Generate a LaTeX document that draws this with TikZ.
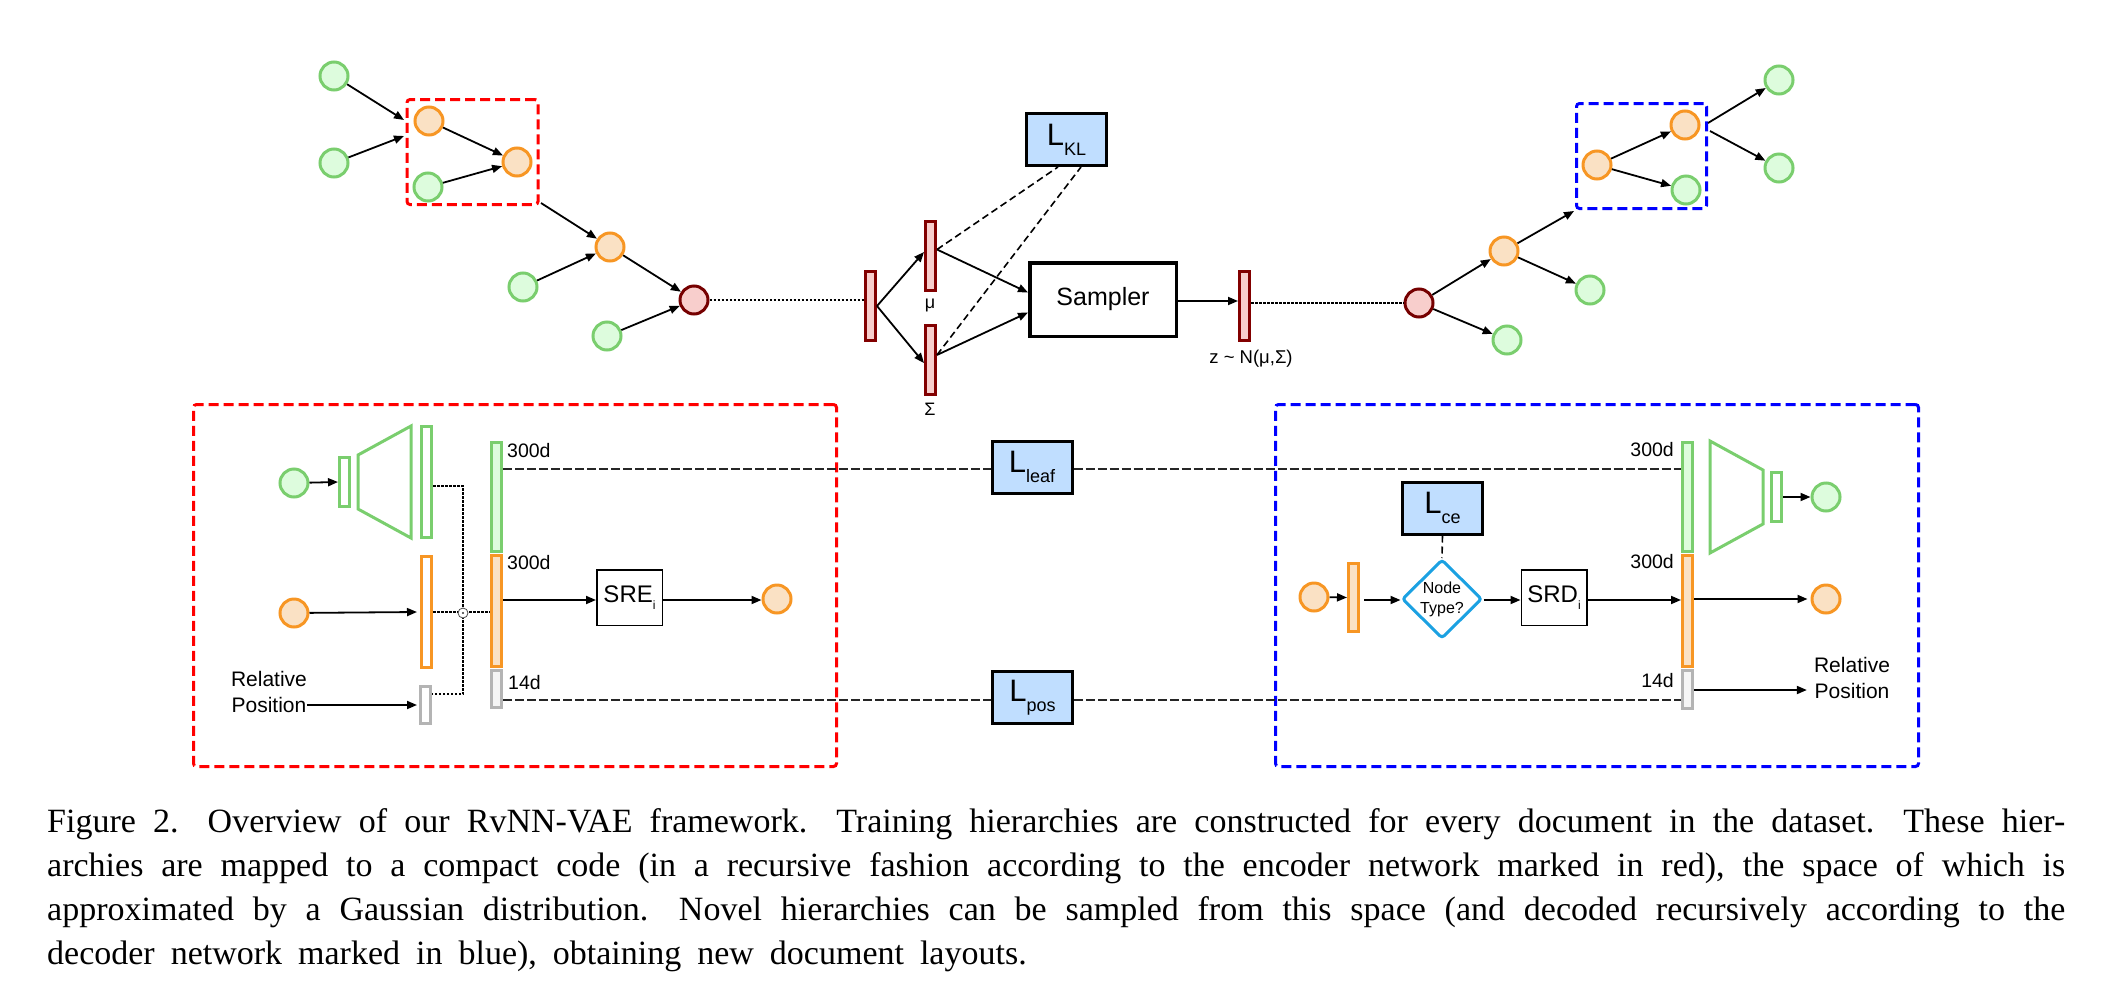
\documentclass[tikz,border=0pt]{standalone}
\usepackage{fontspec}
\setmainfont{Liberation Serif}
\newfontfamily\arial{Liberation Sans}
\usetikzlibrary{arrows.meta,shapes.geometric,calc}
\definecolor{gfill}{RGB}{221,252,221}
\definecolor{gstroke}{RGB}{122,206,110}
\definecolor{ofill}{RGB}{250,225,196}
\definecolor{ostroke}{RGB}{247,150,36}
\definecolor{rfill}{RGB}{248,206,204}
\definecolor{rstroke}{RGB}{118,0,0}
\definecolor{barstroke}{RGB}{130,0,0}
\definecolor{lossfill}{RGB}{192,222,255}
\definecolor{grayfill}{RGB}{245,245,245}
\definecolor{graystroke}{RGB}{180,180,180}
\definecolor{cyanstroke}{RGB}{27,161,226}
\newcommand\Lsub[1]{{\fontsize{31}{31}\selectfont L}\raisebox{-10pt}{\fontsize{18}{18}\selectfont #1}}
\newcommand\Msub[2]{{\fontsize{24}{24}\selectfont #1}\raisebox{-7pt}{\fontsize{12}{12}\selectfont #2}}
\begin{document}
\begin{tikzpicture}[x=1pt,y=-1pt,
  circ/.style={circle,minimum size=28pt,inner sep=0pt,line width=3pt},
  gc/.style={circ,draw=gstroke,fill=gfill},
  oc/.style={circ,draw=ostroke,fill=ofill},
  rcirc/.style={circ,draw=rstroke,fill=rfill},
  vbar/.style={rectangle,inner sep=0pt,minimum width=10pt,minimum height=69pt,line width=3pt,draw=barstroke,fill=rfill},
  gbar/.style={rectangle,inner sep=0pt,minimum width=10pt,line width=3pt,draw=gstroke,fill=gfill},
  obar/.style={rectangle,inner sep=0pt,minimum width=10pt,line width=3pt,draw=ostroke,fill=ofill},
  graybar/.style={rectangle,inner sep=0pt,minimum width=10pt,line width=3pt,draw=graystroke,fill=grayfill},
  gwbar/.style={rectangle,inner sep=0pt,minimum width=10pt,line width=3pt,draw=gstroke,fill=white},
  owbar/.style={rectangle,inner sep=0pt,minimum width=10pt,line width=3pt,draw=ostroke,fill=white},
  arr/.style={-{Triangle[length=10pt,width=8pt]},line width=1.8pt},
  loss/.style={rectangle,draw=black,line width=3pt,fill=lossfill,minimum width=80pt,minimum height=52pt,inner sep=0pt,font=\arial},
  encbox/.style={rectangle,draw=red,line width=3pt,dash pattern=on 10pt off 5pt,rounded corners=3pt,inner sep=0pt},
  decbox/.style={rectangle,draw=blue,line width=3pt,dash pattern=on 10pt off 5pt,rounded corners=3pt,inner sep=0pt},
  lossline/.style={draw=black!85,line width=1.6pt,dash pattern=on 9pt off 3pt},
  klline/.style={draw=black,line width=1.6pt,dash pattern=on 7pt off 4pt},
  dotline/.style={draw=black,line width=1.6pt,dash pattern=on 2.5pt off 1.5pt},
  thindot/.style={draw=black,line width=1.2pt,dash pattern=on 2.5pt off 1.5pt},
  lbl/.style={inner sep=0pt,font=\arial\fontsize{18}{20}\selectfont},
  dimlbl/.style={inner sep=0pt,font=\arial\fontsize{19.5}{22}\selectfont},
  rellbl/.style={inner sep=0pt,align=center,font=\arial\fontsize{21}{26.5}\selectfont},
  thinbox/.style={rectangle,draw=black,line width=1.5pt,fill=white,minimum width=65.5pt,minimum height=55.5pt,inner sep=0pt,font=\arial}
]
\useasboundingbox (0,0) rectangle (2121,983);

% ---------- top-left encoder tree ----------
\node[encbox,minimum width=131pt,minimum height=105pt] (eb) at (472.5,152) {};
\node[gc] (g1) at (334,76) {};
\node[gc] (g2) at (334,163) {};
\node[oc] (o1) at (429,121) {};
\node[gc] (g3) at (428,187) {};
\node[oc] (o2) at (517,162) {};
\node[oc] (o3) at (610,247) {};
\node[gc] (g4) at (523,287) {};
\node[rcirc] (rc) at (694,300) {};
\node[gc] (g5) at (607,336) {};
\coordinate (ein1) at (404,120);
\coordinate (ein2) at (404,136);
\coordinate (eout) at (541,203);
\draw[arr] (g1) -- (ein1);
\draw[arr] (g2) -- (ein2);
\draw[arr] (o1) -- (o2);
\draw[arr] (g3) -- (o2);
\draw[arr] (eout) -- (o3);
\draw[arr] (g4) -- (o3);
\draw[arr] (o3) -- (rc);
\draw[arr] (g5) -- (rc);

% ---------- middle VAE part ----------
\node[vbar] (b0) at (870.5,306) {};
\node[vbar] (mu) at (930.5,256) {};
\node[vbar] (sg) at (930.5,359.5) {};
\node[lbl] (mul) at (930,305) {μ};
\node[lbl] (sgl) at (930,409) {Σ};
\node[rectangle,draw=black,line width=3.5pt,fill=white,minimum width=146.5pt,minimum height=73.5pt,inner sep=0pt,font=\arial\fontsize{25}{28}\selectfont] (smp) at (1103,299.5) {Sampler};
\node[vbar] (zb) at (1244.5,306) {};
\node[lbl,font=\arial\fontsize{18.5}{20}\selectfont] (zl) at (1251,359) {z \textasciitilde{} N(μ,Σ)};
\node[loss] (lkl) at (1066.5,139.5) {\Lsub{KL}};
\draw[dotline] (rc) -- (rc -| b0.west);
\draw[arr] (b0.east) -- ([yshift=4pt]mu.west);
\draw[arr] (b0.east) -- ([yshift=-3.5pt]sg.west);
\draw[arr] (mu.45) -- ([yshift=7pt]smp.west);
\draw[arr] (sg.35) -- ([yshift=-13pt]smp.west);
\draw[arr] ([yshift=-1.5pt]smp.east) -- ([yshift=-1.5pt]smp.east -| zb.west);
\draw[klline] (mu.45) -- ([xshift=-8.5pt]lkl.south);
\draw[klline] (sg.35) -- ([xshift=14.5pt]lkl.south);

% ---------- top-right decoder tree ----------
\node[decbox,minimum width=130pt,minimum height=105pt] (db) at (1641.5,156) {};
\node[rcirc] (rcD) at (1419,303) {};
\node[oc] (oD1) at (1504,251) {};
\node[gc] (gD1) at (1507,340) {};
\node[gc] (gD2) at (1590,290) {};
\node[oc] (oD2) at (1597,165) {};
\node[oc] (oD3) at (1685,125) {};
\node[gc] (gD3) at (1686,190) {};
\node[gc] (gD4) at (1779,80) {};
\node[gc] (gD5) at (1779,168) {};
\coordinate (din) at (1574,211);
\coordinate (dout1) at (1708,123);
\coordinate (dout2) at (1710,131);
\draw[dotline] (zb.east |- rcD) -- (rcD);
\draw[arr] (rcD) -- (oD1);
\draw[arr] (rcD) -- (gD1);
\draw[arr] (oD1) -- (din);
\draw[arr] (oD1) -- (gD2);
\draw[arr] (oD2) -- (oD3);
\draw[arr] (oD2) -- (gD3);
\draw[arr] (dout1) -- (gD4);
\draw[arr] (dout2) -- (gD5);

% ---------- bottom-left encoder detail ----------
\node[encbox,minimum width=643pt,minimum height=362pt] (EB) at (515,585.5) {};
\node[gc] (gL) at (294,483) {};
\node[gwbar,minimum height=49pt] (sL) at (344.5,482) {};
\draw[gstroke,line width=3pt,line join=miter] (358,455) -- (411,426) -- (411,538) -- (358,509) -- cycle;
\node[gwbar,minimum height=111pt] (tg) at (426.5,482) {};
\node[oc] (oL) at (294,613) {};
\node[owbar,minimum height=111pt] (oR) at (426.5,612) {};
\node[rellbl] (relL) at (269,692) {Relative\\Position};
\node[rectangle,inner sep=0pt,minimum width=10pt,minimum height=37pt,line width=3pt,draw=graystroke,fill=white] (gR) at (425.5,705) {};
\node[gbar,minimum height=109pt] (cg) at (496.5,497) {};
\node[obar,minimum height=111pt] (co) at (496.5,611) {};
\node[graybar,minimum height=37pt] (cgy) at (496.5,689) {};
\node[dimlbl,anchor=west] (d1) at (507,451) {300d};
\node[dimlbl,anchor=west] (d2) at (507,563) {300d};
\node[dimlbl,anchor=west] (d3) at (508,683) {14d};
\node[thinbox] (sre) at (629.5,597.5) {\Msub{SRE}{i}};
\node[oc] (oOut) at (777,599) {};
\coordinate (jt) at (463,486);
\coordinate (jb) at (463,694);
\draw[arr] (gL) -- (sL.west);
\draw[arr] (oL) -- ([xshift=-3pt]oR.west);
\draw[arr] (relL.east |- gR) -- ([xshift=-2pt]gR.west);
\draw[thindot] (tg.east |- jt) -- (jt) -- (jb) -- (gR.east |- jb);
\draw[thindot] (oR.east) -- (oR.east -| co.west);
\node[circle,draw=black!70,fill=white,line width=0.8pt,minimum size=10pt,inner sep=0pt] (junc) at (463,613) {};
\fill[black!80] (junc) circle (1.2pt);
\draw[arr] ([yshift=11pt]co.east) -- ([yshift=11pt]co.east -| sre.west);
\draw[arr] ([yshift=-2.5pt]sre.east) -- ([yshift=-2.5pt]sre.east -| oOut.west);

% ---------- losses between encoder and decoder ----------
\node[loss] (lleaf) at (1032,467) {\Lsub{leaf}};
\node[loss] (lpos) at (1032.5,697.5) {\Lsub{pos}};

% ---------- bottom-right decoder detail ----------
\node[decbox,minimum width=643pt,minimum height=362pt] (DB) at (1597,585.5) {};
\node[oc] (oIn) at (1314,597) {};
\node[obar,minimum height=68pt] (oRin) at (1353.5,597.5) {};
\node[diamond,draw=cyanstroke,fill=white,line width=3pt,rounded corners=3pt,inner sep=0pt,minimum width=80pt,minimum height=79pt,align=center,font=\arial\fontsize{16}{20}\selectfont] (dia) at (1442,599) {Node\\Type?};
\node[loss] (lce) at (1442.5,508) {\Lsub{ce}};
\node[thinbox] (srd) at (1554,597.5) {\Msub{SRD}{i}};
\node[gbar,minimum height=109pt] (cgR) at (1687.5,497) {};
\node[obar,minimum height=111pt] (coR) at (1687.5,611) {};
\node[graybar,minimum height=38pt] (cgyR) at (1687.5,689.5) {};
\node[dimlbl,anchor=east] (e1) at (1674,450) {300d};
\node[dimlbl,anchor=east] (e2) at (1674,562) {300d};
\node[dimlbl,anchor=east] (e3) at (1674,681) {14d};
\draw[gstroke,line width=3pt,line join=miter] (1710,441) -- (1763,470) -- (1763,524) -- (1710,553) -- cycle;
\node[gwbar,minimum height=49pt] (sR) at (1776.5,497) {};
\node[gc] (gOut) at (1826,497) {};
\node[oc] (oOut2) at (1826,599) {};
\node[rellbl] (relR) at (1852,678) {Relative\\Position};
\draw[arr] (oIn) -- (oRin.west);
\draw[arr] ([xshift=4pt,yshift=-2.5pt]oRin.east) -- ([yshift=-1pt]dia.west);
\draw[klline] (lce.south) -- (dia.north);
\draw[arr] ([yshift=-1pt]dia.east) -- ([yshift=-2.5pt]srd.west);
\draw[arr] ([yshift=-2.5pt]srd.east) -- ([yshift=-2.5pt]srd.east -| coR.west);
\draw[arr] ([yshift=12pt]coR.east) -- ([xshift=-3pt]oOut2.west);
\draw[arr] (sR.east) -- (gOut.west);
\draw[arr] ([yshift=-0.5pt]cgyR.east) -- ([xshift=-7pt,yshift=-0.5pt]relR.west |- cgyR.east);

% ---------- loss connectors ----------
\draw[lossline] ([yshift=28pt]cg.east) -- ([yshift=28pt]cg.east -| lleaf.west);
\draw[lossline] ([yshift=28pt]cg.east -| lleaf.east) -- ([yshift=28pt]cg.east -| cgR.west);
\draw[lossline] ([yshift=-11pt]cgy.east) -- ([yshift=-11pt]cgy.east -| lpos.west);
\draw[lossline] ([yshift=-11pt]cgy.east -| lpos.east) -- ([yshift=-11pt]cgy.east -| cgyR.west);

% ---------- caption ----------
\node[anchor=base west,inner sep=0pt] (cap) at (47,832) {\parbox[t]{2018pt}{\fontsize{34}{44}\selectfont\spaceskip=0.47em plus 0.15em minus 0.1em\xspaceskip=0.82em plus 0.15em minus 0.1em Figure 2. Overview of our RvNN-VAE framework. Training hierarchies are constructed for every document in the dataset. These hier-\linebreak archies are mapped to a compact code (in a recursive fashion according to the encoder network marked in red), the space of which is\linebreak approximated by a Gaussian distribution. Novel hierarchies can be sampled from this space (and decoded recursively according to the\linebreak decoder network marked in blue), obtaining new document layouts.}};
\end{tikzpicture}
\end{document}
